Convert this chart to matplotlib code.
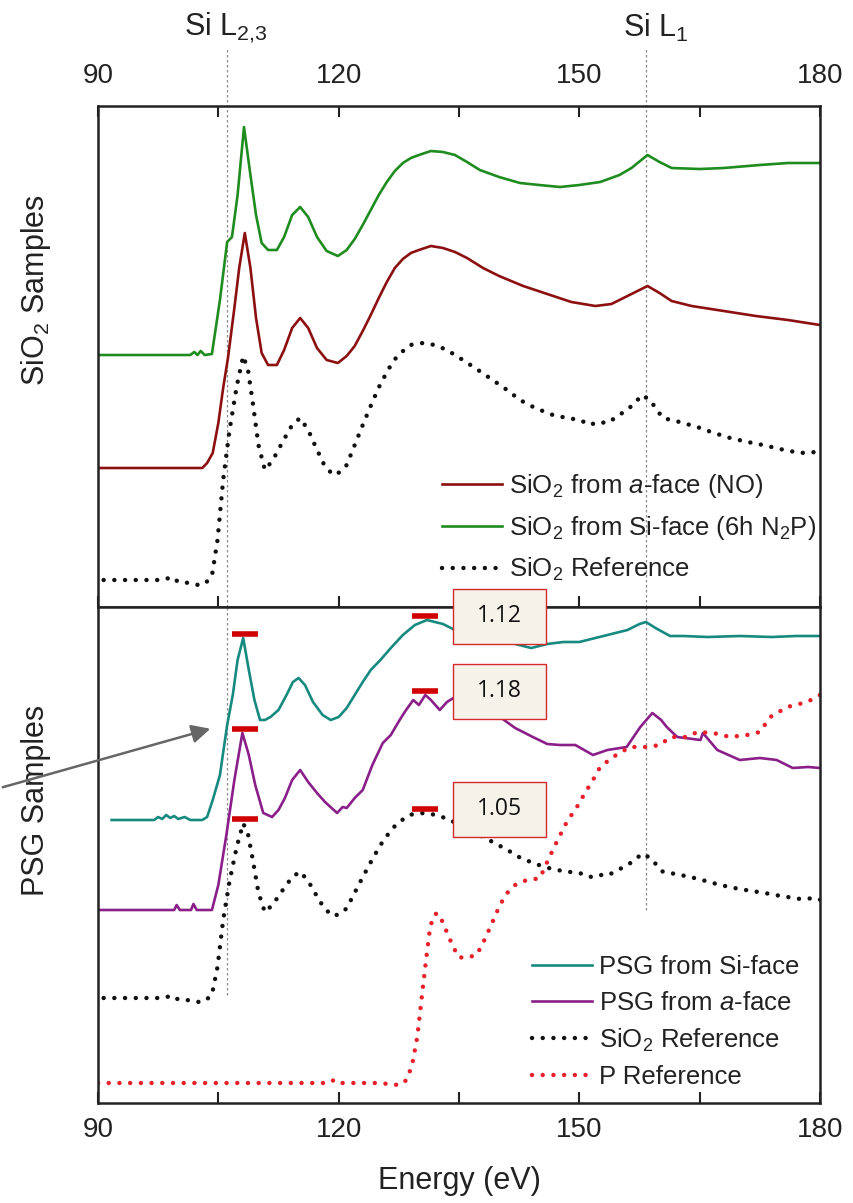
import numpy as np
import matplotlib.pyplot as plt
from matplotlib import font_manager
from matplotlib.patches import FancyArrowPatch, Rectangle

# pick a narrow sans if the system has it
names = {f.name for f in font_manager.fontManager.ttflist}
base = 'Liberation Sans Narrow' if 'Liberation Sans Narrow' in names else 'Liberation Sans'
plt.rcParams['font.family'] = [base, 'DejaVu Sans']
plt.rcParams['mathtext.fontset'] = 'custom'
plt.rcParams['mathtext.rm'] = base
plt.rcParams['mathtext.it'] = base + ':italic'

# ---- data (energy in eV, intensity in a.u.) ----
sio2_si_face = [(90.0, 0), (96.0, 0), (101.5, 0), (102.0, 3), (102.4, 0), (102.8, 4), (103.3, 0),
                (104.2, 1), (105.2, 55), (106.1, 113), (106.7, 118), (107.4, 160), (108.2, 228),
                (109.0, 180), (109.7, 140), (110.4, 112), (111.2, 105), (112.3, 105), (113.2, 118),
                (114.2, 140), (115.2, 148), (116.2, 138), (117.3, 118), (118.5, 104), (119.9, 99),
                (121.0, 105), (122.0, 116), (123.0, 130), (124.0, 145), (125.0, 160), (126.0, 173),
                (127.0, 184), (128.0, 192), (129.0, 197), (130.0, 200), (131.5, 204), (133.0, 203),
                (134.5, 200), (136.0, 193), (137.6, 185), (140.0, 178), (142.6, 172), (145.0, 170),
                (147.6, 168), (150.0, 170), (152.6, 173), (155.0, 180), (156.5, 187), (158.5, 200),
                (160.0, 193), (161.5, 187), (165.0, 186), (168.0, 187), (172.5, 190), (176.0, 192),
                (180.0, 192)]

sio2_a_face = [(90.0, 0), (103.0, 0), (103.6, 5), (104.3, 15), (105.0, 45), (105.6, 80), (106.2, 110),
               (107.0, 160), (107.6, 200), (108.3, 235), (109.0, 200), (109.7, 150), (110.4, 115),
               (111.2, 103), (112.3, 103), (113.2, 118), (114.2, 140), (115.2, 150), (116.2, 140),
               (117.3, 120), (118.5, 108), (119.9, 105), (121.0, 112), (122.0, 122), (123.0, 137),
               (124.0, 153), (125.0, 170), (126.0, 186), (127.0, 200), (128.0, 209), (129.0, 215),
               (130.0, 218), (131.5, 222), (133.0, 220), (134.5, 216), (136.0, 210), (138.0, 200),
               (140.0, 192), (143.0, 182), (146.0, 174), (149.0, 166), (152.0, 162), (154.0, 164),
               (156.0, 172), (157.5, 178), (158.5, 182), (160.0, 175), (161.5, 167), (164.0, 162),
               (168.0, 157), (172.0, 152), (176.0, 148), (180.0, 143)]

sio2_ref = [(90.7, 0), (94.0, 0), (98.0, 0), (99.3, 3), (100.0, -2), (101.5, -3), (102.5, -5),
            (103.3, -4), (104.2, 4), (104.9, 40), (105.6, 100), (106.4, 150), (107.3, 194),
            (108.1, 224), (108.7, 210), (109.3, 177), (110.0, 135), (110.8, 110), (111.8, 120),
            (113.0, 138), (114.2, 155), (115.2, 162), (116.2, 150), (117.2, 132), (118.2, 115),
            (119.3, 105), (120.2, 108), (121.0, 115), (122.0, 135), (123.0, 155), (124.2, 178),
            (125.2, 196), (126.3, 212), (127.3, 224), (128.9, 235), (130.5, 237), (132.0, 235),
            (133.5, 230), (135.1, 222), (137.0, 212), (139.2, 200), (141.0, 190), (142.6, 180),
            (144.5, 172), (146.7, 165), (148.5, 162), (150.1, 160), (151.3, 155), (152.3, 158),
            (153.5, 157), (155.0, 165), (156.7, 175), (157.8, 185), (158.8, 180), (160.4, 162),
            (162.5, 158), (164.7, 153), (166.8, 147), (168.8, 142), (171.0, 138), (172.9, 135),
            (175.0, 131), (177.5, 127), (179.6, 128), (180.0, 126)]

psg_si_face = [(91.7, 0), (95.0, 0), (97.0, 0), (97.5, 3), (98.0, 1), (98.5, 5), (99.0, 2), (99.5, 4),
               (100.0, 1), (100.8, 3), (101.5, 0), (103.0, 0), (103.6, 3), (104.3, 20), (105.2, 45),
               (106.1, 95), (106.8, 125), (107.4, 160), (108.1, 182), (108.8, 150), (109.5, 120),
               (110.2, 100), (110.8, 100), (111.5, 103), (112.5, 110), (113.5, 125), (114.3, 138),
               (115.0, 142), (115.8, 135), (116.8, 118), (118.0, 105), (119.0, 100), (120.0, 103),
               (121.0, 112), (122.0, 125), (123.0, 138), (124.0, 150), (125.2, 160), (126.5, 172),
               (128.0, 185), (129.5, 195), (131.0, 200), (132.0, 198), (133.0, 196), (134.5, 190),
               (136.0, 185), (138.0, 182), (140.0, 180), (142.0, 176), (144.0, 172), (146.0, 176),
               (148.0, 178), (150.0, 178), (152.0, 182), (154.0, 186), (156.0, 190), (157.5, 196),
               (158.3, 198), (159.5, 192), (161.3, 184), (163.0, 184), (166.0, 183), (170.0, 184),
               (174.0, 183), (177.0, 184), (180.0, 184)]

psg_a_face = [(90.0, 0), (99.5, 0), (99.8, 5), (100.2, 0), (101.6, 0), (101.9, 6), (102.3, 0),
              (104.2, 0), (105.0, 25), (106.0, 75), (107.0, 130), (108.0, 177), (108.8, 155),
              (109.6, 125), (110.6, 97), (111.7, 93), (112.5, 100), (113.3, 112), (114.2, 130),
              (115.2, 140), (116.2, 128), (117.3, 117), (118.3, 108), (119.8, 97), (120.5, 103),
              (121.0, 102), (122.0, 112), (123.0, 120), (124.2, 145), (125.5, 167), (126.5, 175),
              (127.6, 190), (128.4, 200), (129.3, 210), (130.0, 205), (130.8, 215), (131.5, 210),
              (132.6, 200), (133.5, 208), (134.3, 212), (135.5, 205), (137.0, 200), (138.5, 196),
              (140.1, 193), (142.0, 182), (144.2, 173), (146.0, 166), (147.6, 165), (149.5, 165),
              (151.7, 155), (153.5, 160), (155.9, 163), (157.6, 183), (159.1, 197), (160.2, 190),
              (160.9, 183), (162.2, 173), (165.1, 170), (165.4, 177), (167.2, 160), (170.0, 150),
              (172.5, 152), (174.6, 150), (176.6, 142), (178.5, 143), (180.0, 142)]

p_ref = [(90.0, 0), (100.0, 0), (110.0, 0), (118.8, 0), (119.4, 3), (120.0, 0), (125.0, 0),
         (127.5, -2), (128.1, 0), (128.6, 5), (129.2, 20), (129.8, 46), (130.5, 96), (131.0, 130),
         (131.4, 156), (131.9, 168), (132.3, 170), (132.9, 162), (133.9, 143), (134.9, 126),
         (135.8, 125), (137.2, 128), (138.0, 140), (138.9, 156), (140.1, 178), (141.0, 190),
         (142.0, 198), (143.0, 202), (143.9, 203), (145.1, 205), (146.1, 223), (147.3, 243),
         (148.5, 262), (149.7, 276), (150.7, 290), (151.7, 303), (152.6, 316), (154.2, 326),
         (156.3, 336), (158.4, 336), (160.1, 338), (161.3, 346), (163.4, 346), (164.7, 351),
         (166.7, 350), (168.8, 346), (170.9, 348), (172.5, 351), (173.8, 366), (175.9, 376),
         (178.4, 381), (180.0, 388)]

edges = [106.1, 158.3]
ratio_labels = ['1.12', '1.18', '1.05']

# ---- figure ----
fig = plt.figure(figsize=(8.54, 12.03), dpi=100)
W, H = 854, 1203
ax1 = fig.add_axes([98 / W, 1 - 607 / H, 722 / W, 501 / H])
ax2 = fig.add_axes([98 / W, 1 - 1103 / H, 722 / W, 496 / H])

dots = dict(linestyle=(0, (0.01, 2.4)), dash_capstyle='round', lw=3.2)
c_green, c_red, c_teal, c_purple, c_pref = '#1f8c1f', '#8c1010', '#178a80', '#8a1f8a', '#e8202a'
txt = '#222222'


def curve(data, offset=0.0, scale=1.0):
    arr = np.array(data, dtype=float)
    return arr[:, 0], arr[:, 1] * scale + offset


# top panel: SiO2 samples
x, y = curve(sio2_a_face, 139)
ax1.plot(x, y, color=c_red, lw=1.9, label=r'SiO$_2$ from $a$-face (NO)')
x, y = curve(sio2_si_face, 252)
ax1.plot(x, y, color=c_green, lw=1.9, label=r'SiO$_2$ from Si-face (6h N$_2$P)')
x, y = curve(sio2_ref, 27)
ax1.plot(x, y, color='#111111', label=r'SiO$_2$ Reference', **dots)

# bottom panel: PSG samples
ref_scale = 0.78
teal_x, teal_y = curve(psg_si_face, 283)
ax2.plot(teal_x, teal_y, color=c_teal, lw=1.9, label='PSG from Si-face')
pur_x, pur_y = curve(psg_a_face, 193)
ax2.plot(pur_x, pur_y, color=c_purple, lw=1.9, label=r'PSG from $a$-face')
ref_x, ref_y = curve(sio2_ref, 105, ref_scale)
ax2.plot(ref_x, ref_y, color='#111111', label=r'SiO$_2$ Reference', **dots)
x, y = curve(p_ref, 20)
ax2.plot(x, y, color=c_pref, label='P Reference', **dots)

# peak markers and ratio boxes
for (cx, cy), lab in zip([(teal_x, teal_y), (pur_x, pur_y), (ref_x, ref_y)], ratio_labels):
    m1 = cy[(cx > 106) & (cx < 111)].max() + 4
    m2 = cy[(cx > 127) & (cx < 136)].max() + 4
    ax2.plot([106.7, 109.9], [m1, m1], color='#d00000', lw=4, solid_capstyle='butt')
    ax2.plot([129.1, 132.4], [m2, m2], color='#d00000', lw=4, solid_capstyle='butt', clip_on=False)
    ax2.add_patch(Rectangle((134.2, m2 - 27.5), 11.6, 55, facecolor='#f4f2e9',
                            edgecolor='#d42a2a', lw=1, zorder=5, clip_on=False))
    ax2.text(140.0, m2, lab, ha='center', va='center', fontsize=16.5,
             family=['Open Sans', 'DejaVu Sans'], color='#111111', zorder=6)

# edge lines
for e in edges:
    ax1.axvline(e, ymin=0, ymax=(607 - 48) / 501, color='#8a8a8a', lw=0.9,
                linestyle=(0, (2, 2)), clip_on=False, zorder=0)
ax2.axvline(edges[0], ymin=(1103 - 995) / 496, ymax=1, color='#8a8a8a', lw=0.9,
            linestyle=(0, (2, 2)), zorder=0)
ax2.axvline(edges[1], ymin=(1103 - 910) / 496, ymax=1, color='#8a8a8a', lw=0.9,
            linestyle=(0, (2, 2)), zorder=0)

# axes styling
for ax, ylim in ((ax1, 501), (ax2, 496)):
    ax.set_xlim(90, 180)
    ax.set_ylim(0, ylim)
    ax.set_yticks([])
    ax.set_xticks([90, 105, 120, 135, 150, 165, 180])
    ax.set_xticklabels(['90', '', '120', '', '150', '', '180'])
    for s in ax.spines.values():
        s.set_linewidth(1.8)
        s.set_color(txt)
ax1.tick_params(axis='x', direction='in', top=True, bottom=True, labeltop=True,
                labelbottom=False, length=8, width=1.5, labelsize=20, pad=12, colors=txt)
ax2.tick_params(axis='x', direction='in', top=False, bottom=True, length=8, width=1.5,
                labelsize=20, pad=10, colors=txt)
ax2.set_xlabel('Energy (eV)', fontsize=22, color=txt, labelpad=17)

leg_kw = dict(frameon=False, fontsize=18.5, handlelength=2.35, handletextpad=0.25,
              borderpad=0, borderaxespad=0, labelcolor=txt)
ax1.legend(loc='upper left', bbox_to_anchor=(0.4765, 0.27), labelspacing=0.55, **leg_kw)
ax2.legend(loc='upper left', bbox_to_anchor=(0.601, 0.298), labelspacing=0.45, **leg_kw)

fig.text(36 / W, 1 - 290 / H, r'SiO$_2$ Samples', rotation=90, ha='center', va='center',
         fontsize=22, color=txt)
fig.text(36 / W, 1 - 800 / H, 'PSG Samples', rotation=90, ha='center', va='center',
         fontsize=22, color=txt)
fig.text(226 / W, 1 - 28 / H, r'Si L$_{2{,}3}$', ha='center', va='center', fontsize=22, color=txt)
fig.text(656 / W, 1 - 28 / H, r'Si L$_1$', ha='center', va='center', fontsize=22, color=txt)

# arrow pointing at the Si L2,3 onset
fig.add_artist(FancyArrowPatch((0, 1 - 788 / H), (213 / W, 1 - 728 / H), transform=fig.transFigure,
                               arrowstyle='-|>', mutation_scale=28, color='#666666', lw=1.8,
                               zorder=10))

fig.savefig('out.png', dpi=100)
